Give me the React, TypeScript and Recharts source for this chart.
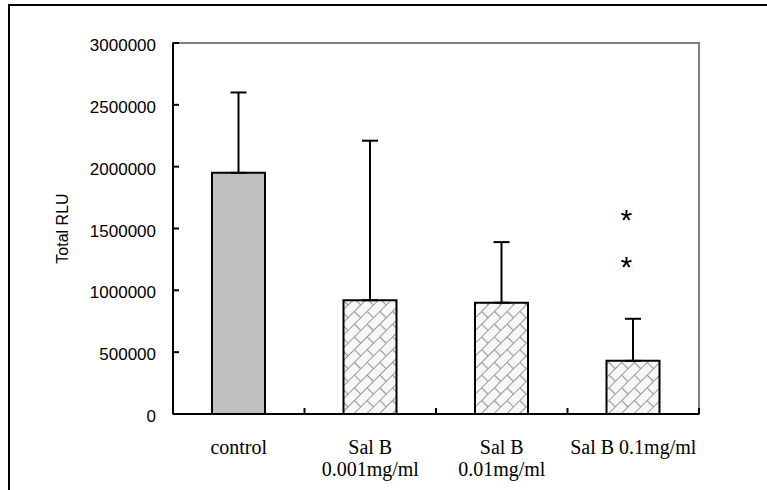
import React from 'react'
import { BarChart, Bar, XAxis, YAxis, ErrorBar, ReferenceArea, ReferenceDot, Cell } from 'recharts'

// groups, mean total RLU and SD (upper whisker only)
const categories = ['control', 'Sal B\n0.001mg/ml', 'Sal B\n0.01mg/ml', 'Sal B 0.1mg/ml']
const meanRLU = [1950000, 920000, 900000, 430000]
const sdRLU = [650000, 1290000, 490000, 340000]
const yTicks = [0, 500000, 1000000, 1500000, 2000000, 2500000, 3000000]
// the two asterisks above the last bar
const sigMarks = [1600000, 1220000]

const data = categories.map((name, i) => ({
  name,
  rlu: meanRLU[i],
  err: [0, sdRLU[i]],
}))

const serif = "'Liberation Serif', 'Times New Roman', serif"
const sans = "'Liberation Sans', Arial, sans-serif"

// eslint-disable-next-line @typescript-eslint/no-explicit-any
const CategoryTick = ({ x, y, payload }: any) => {
  const lines = String(payload.value).split('\n')
  const half = payload.offset ?? 0
  return (
    <g>
      <line x1={x + half} y1={y} x2={x + half} y2={y - 6} stroke="#000" strokeWidth={2} />
      <text x={x} y={y + 40} textAnchor="middle" fontFamily={serif} fontSize={20} fill="#000">
        {lines.map((l, i) => (
          <tspan key={i} x={x} dy={i === 0 ? 0 : 22}>{l}</tspan>
        ))}
      </text>
    </g>
  )
}

// eslint-disable-next-line @typescript-eslint/no-explicit-any
const ValueTick = ({ x, y, payload }: any) => (
  <g>
    <line x1={x} y1={y} x2={x + 6} y2={y} stroke="#000" strokeWidth={2} />
    <text x={x - 17} y={y + 8} textAnchor="end" fontFamily={sans} fontSize={17} fill="#000">
      {payload.value}
    </text>
  </g>
)

// eslint-disable-next-line @typescript-eslint/no-explicit-any
const Star = (p: any) => (
  <text x={p.cx - 7} y={p.cy + 14} textAnchor="middle" fontFamily={sans} fontSize={30} fill="#000">*</text>
)

export default function App() {
  return (
    <div
      style={{
        position: 'fixed', left: 8, top: 4, width: 757, height: 484,
        borderLeft: '2px solid #000', borderTop: '2px solid #000', background: '#fff',
      }}
    >
      <BarChart width={757} height={484} data={data} margin={{ top: 37, right: 68, left: 0, bottom: 0 }}>
        <defs>
          <pattern id="brick" width="18" height="18" patternUnits="userSpaceOnUse" patternTransform="rotate(-45)">
            <rect width="18" height="18" fill="#f7f7f7" />
            <path d="M0 0.5H18M0 9.5H18M0.5 0V9M9.5 9V18" stroke="#9a9a9a" strokeWidth={1.2} fill="none" />
          </pattern>
        </defs>
        <ReferenceArea y1={0} y2={3000000} fill="none" stroke="#808080" strokeWidth={2} />
        <XAxis
          dataKey="name"
          height={76}
          tickSize={0}
          tickMargin={0}
          tick={<CategoryTick />}
          axisLine={{ stroke: '#000', strokeWidth: 2 }}
          tickLine={false}
          interval={0}
        />
        <YAxis
          width={163}
          domain={[0, 3000000]}
          ticks={yTicks}
          tickSize={0}
          tickMargin={0}
          tick={<ValueTick />}
          axisLine={{ stroke: '#000', strokeWidth: 2 }}
          tickLine={false}
          label={{
            value: 'Total RLU', angle: -90, position: 'insideLeft', offset: 52,
            style: { textAnchor: 'middle', fontFamily: sans, fontSize: 16, fill: '#000' },
          }}
        />
        <Bar dataKey="rlu" barSize={53} stroke="#000" strokeWidth={2} isAnimationActive={false}>
          {data.map((d, i) => (
            <Cell key={d.name} fill={i === 0 ? '#c0c0c0' : 'url(#brick)'} />
          ))}
          <ErrorBar dataKey="err" direction="y" width={8} stroke="#000" strokeWidth={2} isAnimationActive={false} />
        </Bar>
        {sigMarks.map((v, i) => (
          <ReferenceDot key={i} x={categories[3]} y={v} shape={<Star />} />
        ))}
      </BarChart>
    </div>
  )
}
